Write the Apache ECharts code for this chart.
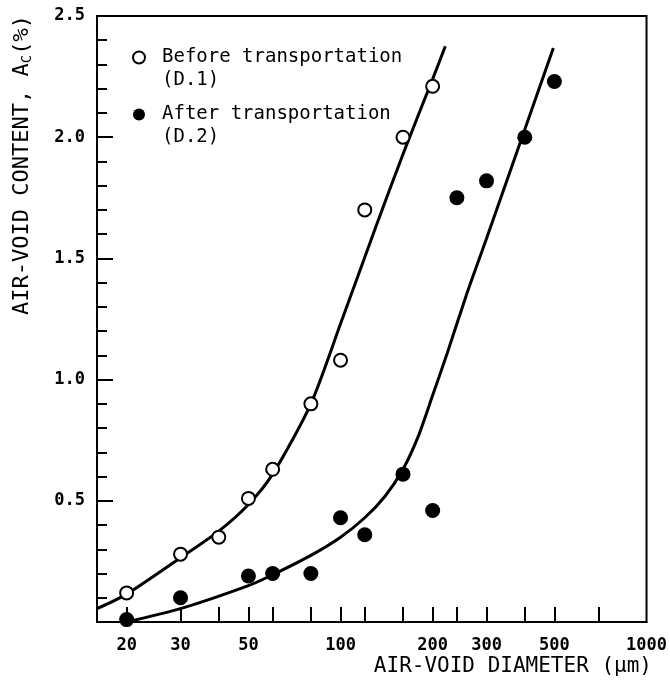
<!DOCTYPE html>
<html>
<head>
<meta charset="utf-8">
<title>Air-void content vs diameter</title>
<script src="https://cdn.jsdelivr.net/npm/echarts@6/dist/echarts.min.js"></script>
<style>
  html, body { margin: 0; padding: 0; background: #fff; }
  #main { width: 670px; height: 689px; }
</style>
</head>
<body>
<div id="main"></div>
<script>
// measured points, before transportation (D.1)
const beforeX = [20, 30, 40, 50, 60, 80, 100, 120, 160, 200]
const beforeY = [0.12, 0.28, 0.35, 0.51, 0.63, 0.90, 1.08, 1.70, 2.00, 2.21]
// measured points, after transportation (D.2)
const afterX = [20, 30, 50, 60, 80, 100, 120, 160, 200, 240, 300, 400, 500]
const afterY = [0.01, 0.10, 0.19, 0.20, 0.20, 0.43, 0.36, 0.61, 0.46, 1.75, 1.82, 2.00, 2.23]
// fitted curves
const beforeCurveX = [16, 20, 30, 40, 50, 60, 80, 100, 130, 160, 200, 220]
const beforeCurveY = [0.055, 0.115, 0.265, 0.375, 0.485, 0.61, 0.90, 1.23, 1.625, 1.93, 2.24, 2.375]
const afterCurveX = [20, 30, 50, 60, 80, 100, 120, 140, 160, 180, 200, 222, 258, 300, 380, 496]
const afterCurveY = [0.0, 0.055, 0.15, 0.195, 0.275, 0.35, 0.43, 0.52, 0.63, 0.77, 0.935, 1.10, 1.35, 1.582, 1.951, 2.368]
// axis ticks
const xTickValues = [20, 30, 40, 50, 60, 80, 100, 120, 160, 200, 240, 300, 400, 500, 700]
const xLabelValues = [20, 30, 50, 100, 200, 300, 500, 1000]

const pairs = (xs, ys) => xs.map((x, i) => [x, ys[i]])
const ink = '#000'
const mono = 'DejaVu Sans Mono'

let myChart = echarts.init(document.getElementById('main'))
let option = {
  backgroundColor: '#fff',
  animation: false,
  grid: {
    left: 97,
    right: 22,
    top: 16,
    bottom: 67,
    show: true,
    borderColor: ink,
    borderWidth: 2
  },
  legend: {
    orient: 'vertical',
    left: 127,
    top: 18,
    itemWidth: 12,
    itemHeight: 12,
    itemGap: -12,
    data: ['Before transportation', 'After transportation'],
    // blank first line so the marker sits on the name line
    formatter: name => ' \n' + name + (name === 'Before transportation' ? '\n(D.1)' : '\n(D.2)'),
    textStyle: {
      fontFamily: mono,
      fontSize: 19,
      lineHeight: 23,
      color: ink,
      padding: [0, 0, 0, 12]
    }
  },
  xAxis: {
    type: 'log',
    min: 16,
    max: 1000,
    axisLine: { lineStyle: { color: ink, width: 2 } },
    axisTick: {
      inside: true,
      length: 15,
      customValues: xTickValues,
      lineStyle: { color: ink, width: 2 }
    },
    axisLabel: {
      customValues: xLabelValues,
      margin: 15,
      fontFamily: mono,
      fontWeight: 'bold',
      fontSize: 17,
      color: ink,
      formatter: v => String(Math.round(v))
    },
    splitLine: { show: false },
    minorTick: { show: false }
  },
  yAxis: {
    type: 'value',
    min: 0,
    max: 2.5,
    interval: 0.5,
    axisLine: { show: true, lineStyle: { color: ink, width: 2 } },
    axisTick: { inside: true, length: 16, lineStyle: { color: ink, width: 2 } },
    minorTick: { show: true, splitNumber: 5, length: 10, lineStyle: { color: ink, width: 2 } },
    axisLabel: {
      margin: 12,
      fontFamily: mono,
      fontWeight: 'bold',
      fontSize: 17,
      color: ink,
      padding: [3, 0, 0, 0],
      formatter: v => v === 0 ? '' : v.toFixed(1)
    },
    splitLine: { show: false }
  },
  graphic: [
    {
      type: 'text',
      x: 652,
      y: 667,
      style: {
        text: 'AIR-VOID DIAMETER (μm)',
        fontFamily: mono,
        fontSize: 21,
        fill: ink,
        align: 'right',
        verticalAlign: 'middle'
      }
    },
    {
      type: 'text',
      x: 22,
      y: 165,
      rotation: Math.PI / 2,
      style: {
        text: 'AIR-VOID CONTENT, A{sub|C}(%)',
        fontFamily: mono,
        fontSize: 22,
        fill: ink,
        align: 'center',
        verticalAlign: 'middle',
        rich: {
          sub: { fontFamily: mono, fontSize: 14, fill: ink, verticalAlign: 'bottom', padding: [10, 0, 0, 0] }
        }
      }
    }
  ],
  series: [
    {
      name: 'before-curve',
      type: 'line',
      data: pairs(beforeCurveX, beforeCurveY),
      smooth: 0.25,
      showSymbol: false,
      silent: true,
      lineStyle: { color: ink, width: 3 },
      z: 2
    },
    {
      name: 'after-curve',
      type: 'line',
      data: pairs(afterCurveX, afterCurveY),
      smooth: 0.25,
      showSymbol: false,
      silent: true,
      lineStyle: { color: ink, width: 3 },
      z: 2
    },
    {
      name: 'Before transportation',
      type: 'scatter',
      data: pairs(beforeX, beforeY),
      symbol: 'circle',
      symbolSize: 13,
      itemStyle: { color: '#fff', borderColor: ink, borderWidth: 2, opacity: 1 },
      z: 5
    },
    {
      name: 'After transportation',
      type: 'scatter',
      data: pairs(afterX, afterY),
      symbol: 'circle',
      symbolSize: 15,
      itemStyle: { color: ink, opacity: 1 },
      z: 5
    }
  ]
}
myChart.setOption(option, true)
</script>
</body>
</html>
